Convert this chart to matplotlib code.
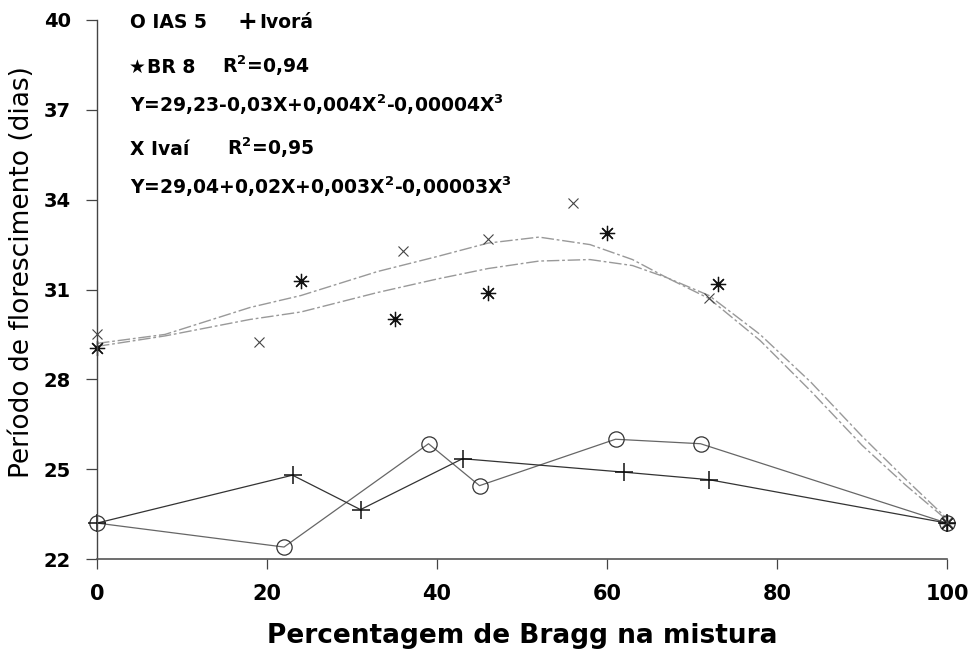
import numpy as np
import matplotlib
matplotlib.use("Agg")
import matplotlib.pyplot as plt

## Data
x_ias = [0, 22, 39, 45, 61, 71, 100]
y_ias = [23.2, 22.4, 25.85, 24.45, 26.0, 25.85, 23.2]

x_ivora = [0, 23, 31, 43, 62, 72, 100]
y_ivora = [23.2, 24.8, 23.65, 25.35, 24.9, 24.65, 23.2]

x_br8 = [0, 24, 35, 46, 60, 73, 100]
y_br8 = [29.05, 31.3, 30.0, 30.9, 32.9, 31.2, 23.2]

x_ivai = [0, 19, 36, 46, 56, 72, 100]
y_ivai = [29.5, 29.25, 32.3, 32.7, 33.9, 30.7, 23.25]

## regression curves
x_curve = [0, 8, 18, 24, 33, 40, 46, 52, 58, 63, 67, 72, 78, 84, 90, 95, 100]
curve_ivai = [29.2, 29.5, 30.4, 30.8, 31.6, 32.1, 32.55, 32.75, 32.5, 32.0,
              31.4, 30.8, 29.5, 27.9, 26.1, 24.7, 23.35]
curve_br8 = [29.1, 29.45, 30.0, 30.25, 30.9, 31.35, 31.7, 31.95, 32.0, 31.8,
             31.4, 30.7, 29.3, 27.6, 25.8, 24.5, 23.3]

xticks = [0, 20, 40, 60, 80, 100]
yticks = [22, 25, 28, 31, 34, 37, 40]

fig = plt.figure(figsize=(9.72, 6.6), dpi=100)
ax = fig.add_axes([0.0998, 0.153, 0.8745, 0.8167])

## fitted curves
ax.plot(x_curve, curve_br8, color="#999999", lw=1.0, ls=(0, (9, 2, 2, 2)))
ax.plot(x_curve, curve_ivai, color="#999999", lw=1.0, ls=(0, (9, 2, 2, 2)))

## connected series
ax.plot(x_ias, y_ias, color="#666666", lw=0.9, marker="o", ms=11,
        mfc="none", mec="#333333", mew=0.9, clip_on=False)
ax.plot(x_ivora, y_ivora, color="#333333", lw=0.9, marker="+", ms=13,
        mec="#111111", mew=1.1, clip_on=False)

## scatter points
ax.plot(x_br8, y_br8, ls="none", marker=(8, 2, 0), ms=11, mec="#111111",
        mew=0.9, clip_on=False)
ax.plot(x_br8, y_br8, ls="none", marker="o", ms=3, color="#111111",
        clip_on=False)
ax.plot(x_ivai, y_ivai, ls="none", marker="x", ms=7, mec="#444444",
        mew=0.8, clip_on=False)

ax.set_xlim(0, 100)
ax.set_ylim(22, 40)
ax.set_xticks(xticks)
ax.set_yticks(yticks)
for s in ["top", "right"]:
    ax.spines[s].set_visible(False)
ax.spines["left"].set_color("#444444")
ax.spines["bottom"].set_color("#555555")
ax.spines["left"].set_linewidth(1.0)
ax.spines["bottom"].set_linewidth(1.2)
ax.tick_params(axis="x", length=7, width=0.9, color="#444444", pad=11,
               labelsize=15)
ax.tick_params(axis="y", length=8, width=0.9, color="#444444", pad=11,
               labelsize=14)
for lab in ax.get_xticklabels() + ax.get_yticklabels():
    lab.set_fontweight("bold")

ax.set_xlabel("Percentagem de Bragg na mistura", fontsize=19,
              fontweight="bold", labelpad=14)
ax.set_ylabel("Período de florescimento (dias)", fontsize=19)
ax.yaxis.set_label_coords(-0.073, 0.532)

## legend-like text block
fs = 13.5


def put(px, base, txt, size=fs):
    fig.text(px / 972, 1 - base / 660, txt, fontsize=size, fontweight="bold",
             va="baseline", ha="left")


put(130, 28, "O IAS 5")
put(237, 29, "+", size=17)
put(259, 28, "Ivorá")
put(129, 73, "\u2605")
put(147, 73, "BR 8")
put(222, 73, "R$^{\\mathbf{2}}$=0,94")
put(130, 112, "Y=29,23-0,03X+0,004X$^{\\mathbf{2}}$-0,00004X$^{\\mathbf{3}}$")
put(130, 155, "X Ivaí")
put(227, 155, "R$^{\\mathbf{2}}$=0,95")
put(130, 194, "Y=29,04+0,02X+0,003X$^{\\mathbf{2}}$-0,00003X$^{\\mathbf{3}}$")

fig.savefig("out.png", dpi=100)
